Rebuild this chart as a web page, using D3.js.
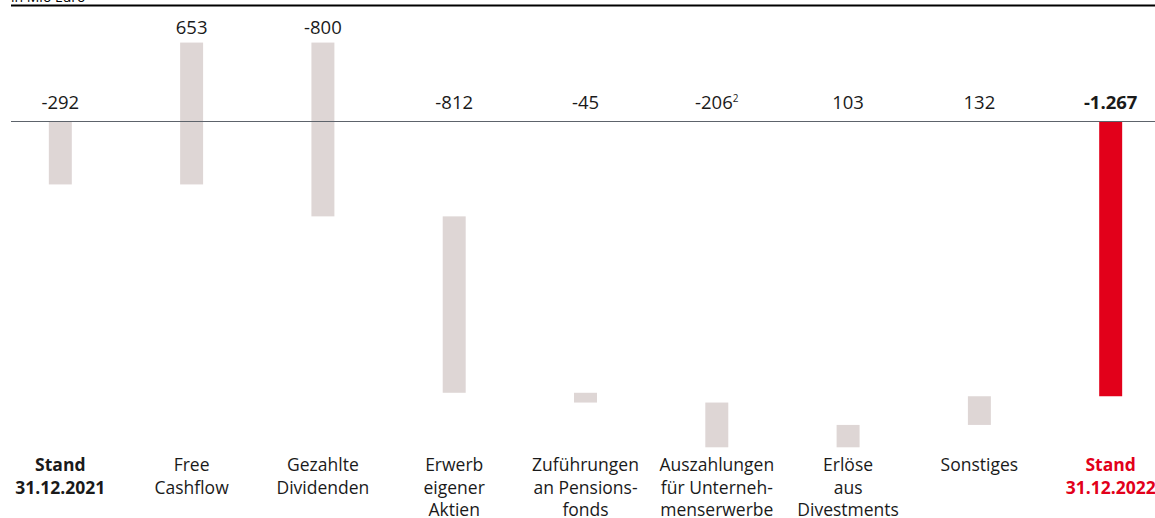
<!DOCTYPE html>
<html>
<head>
<meta charset="utf-8">
<script src="https://cdn.jsdelivr.net/npm/d3@7"></script>
<style>
  body { margin: 0; background: #fff; }
  svg { display: block; font-family: "Open Sans", "Noto Sans", sans-serif; }
</style>
</head>
<body>
<svg id="chart" width="1155" height="518"></svg>
<script>
// Kategorien (mehrzeilig) und Werte in Mio Euro
const categories = [
  ["Stand", "31.12.2021"],
  ["Free", "Cashflow"],
  ["Gezahlte", "Dividenden"],
  ["Erwerb", "eigener", "Aktien"],
  ["Zuführungen", "an Pensions-", "fonds"],
  ["Auszahlungen", "für Unterneh-", "menserwerbe"],
  ["Erlöse", "aus", "Divestments"],
  ["Sonstiges"],
  ["Stand", "31.12.2022"]
]
const values = [-292, 653, -800, -812, -45, -206, 103, 132, -1267]
const valueLabels = ["-292", "653", "-800", "-812", "-45", "-206", "103", "132", "-1.267"]
const footnotes = ["", "", "", "", "", "2", "", "", ""]
const kind = ["total", "step", "step", "step", "step", "step", "step", "step", "total"]

// Wasserfall: Start/Ende je Balken
let run = 0
const bars = values.map((v, i) => {
  let a, b
  if (kind[i] === "total") { a = 0; b = v; run = v }
  else { a = run; b = run + v; run = b }
  return { i, v, a, b, kind: kind[i], label: valueLabels[i], fn: footnotes[i], cat: categories[i] }
})

const svg = d3.select("#chart")

const x = d3.scaleBand()
  .domain(d3.range(values.length))
  .range([-5, 1176])
  .paddingInner(0.825)
  .paddingOuter(0.41)

const y = d3.scaleLinear()
  .domain([0, -1502])
  .range([121, 447.3])

// "in Mio Euro" (oben abgeschnitten) + Linie
svg.append("text")
  .attr("x", 11).attr("y", 2)
  .attr("font-size", 14)
  .attr("fill", "#000")
  .text("in Mio Euro")

svg.append("line")
  .attr("x1", 11).attr("x2", 1155)
  .attr("y1", 5.5).attr("y2", 5.5)
  .attr("stroke", "#000").attr("stroke-width", 2)

// Balken
svg.append("g").selectAll("rect")
  .data(bars)
  .join("rect")
  .attr("x", d => x(d.i))
  .attr("width", x.bandwidth())
  .attr("y", d => y(Math.max(d.a, d.b)))
  .attr("height", d => Math.abs(y(d.a) - y(d.b)))
  .attr("fill", d => d.i === values.length - 1 ? "#e2001a" : "#ded6d5")

// Nulllinie
svg.append("line")
  .attr("x1", 11).attr("x2", 1155)
  .attr("y1", y(0) + 0.5).attr("y2", y(0) + 0.5)
  .attr("stroke", "#5d636b").attr("stroke-width", 1)

// Wertbeschriftung
const vl = svg.append("g").selectAll("text")
  .data(bars)
  .join("text")
  .attr("x", d => x(d.i) + x.bandwidth() / 2)
  .attr("y", d => {
    const top = y(Math.max(d.a, d.b))
    return top < y(0) ? top - 9 : y(0) - 12.5
  })
  .attr("text-anchor", "middle")
  .attr("font-size", 18.5)
  .attr("font-weight", d => d.i === values.length - 1 ? "bold" : "normal")
  .attr("fill", "#1a1a1a")

vl.append("tspan").text(d => d.label)
vl.filter(d => d.fn).append("tspan")
  .attr("font-size", 10)
  .attr("dy", -7)
  .text(d => d.fn)

// Kategorienbeschriftung
const cl = svg.append("g").selectAll("text")
  .data(bars)
  .join("text")
  .attr("text-anchor", "middle")
  .attr("font-size", 17.5)
  .attr("font-weight", d => d.kind === "total" ? "bold" : "normal")
  .attr("fill", d => d.i === values.length - 1 ? "#e2001a" : "#1a1a1a")

cl.selectAll("tspan")
  .data(d => d.cat.map(t => ({ t, cx: x(d.i) + x.bandwidth() / 2 })))
  .join("tspan")
  .attr("x", t => t.cx)
  .attr("y", (t, j) => 471 + j * 22.5)
  .text(t => t.t)
</script>
</body>
</html>
